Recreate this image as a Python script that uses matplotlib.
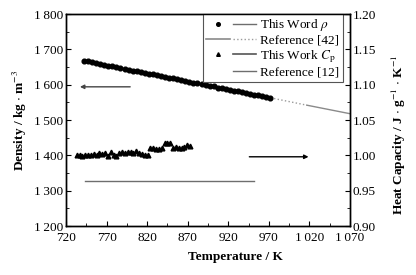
import matplotlib
matplotlib.use("Agg")
import matplotlib.pyplot as plt
from matplotlib.lines import Line2D
from matplotlib.legend_handler import HandlerTuple
from matplotlib.ticker import MultipleLocator, FixedLocator, FuncFormatter

plt.rcParams['font.family'] = ['Liberation Serif', 'DejaVu Serif']
plt.rcParams['mathtext.fontset'] = 'stix'

# density measured in this work
rho_T = [742, 747, 752, 757, 762, 767, 772, 777, 782, 787, 792, 797, 802, 807, 812, 817,
         822, 827, 832, 837, 842, 847, 852, 857, 862, 867, 872, 877, 882, 887, 892, 897,
         902, 907, 912, 917, 922, 927, 932, 937, 942, 947, 952, 957, 962, 967, 972]
rho = [1668, 1666, 1663, 1661, 1659, 1656, 1654, 1652, 1650, 1647, 1645, 1643, 1640, 1638,
       1636, 1634, 1631, 1629, 1627, 1624, 1622, 1620, 1618, 1615, 1613, 1611, 1608, 1606,
       1604, 1602, 1599, 1597, 1595, 1592, 1590, 1588, 1586, 1583, 1581, 1579, 1576, 1574,
       1572, 1570, 1567, 1565, 1563]

# density from reference [42] (dotted part, solid part)
ref42_T = [972, 1017, 1070]
ref42_rho = [1563, 1542, 1518]

# heat capacity measured in this work
cp_T = [733, 736.5, 740, 743.5, 747, 750.5, 754, 757.5, 761, 764.5, 768, 771.5, 775, 778.5,
        782, 785.5, 789, 792.5, 796, 799.5, 803, 806.5, 810, 813.5, 817, 820.5, 824, 827.5,
        831, 834.5, 838, 841.5, 845, 848.5, 852, 855.5, 859, 862.5, 866, 869.5, 873]
cp = [1.000, 1.000, 0.999, 1.001, 1.000, 1.001, 1.002, 1.001, 1.003, 1.002, 1.003, 0.999,
      1.005, 1.000, 0.999, 1.004, 1.005, 1.004, 1.005, 1.005, 1.003, 1.006, 1.004, 1.002,
      1.001, 1.001, 1.010, 1.010, 1.009, 1.009, 1.011, 1.018, 1.017, 1.017, 1.011, 1.012,
      1.011, 1.011, 1.012, 1.014, 1.013]

# heat capacity from reference [12]
ref12_T = [743, 952]
ref12_cp = [0.964, 0.964]

# axis ticks
x_ticks = [720, 770, 820, 870, 920, 970, 1020, 1070]
x_minor = [745, 795, 845, 895, 945, 995, 1045]

line_gray = '#6e6e6e'
fs = 9.5


def thin_thousands(v, pos):
    s = '%d' % round(v)
    if len(s) > 3:
        s = s[:-3] + '\u2009' + s[-3:]
    return s


fig = plt.figure(figsize=(4.16, 2.75), dpi=100)
ax = fig.add_axes([0.159, 0.178, 0.682, 0.771])
ax2 = ax.twinx()

ax.plot(rho_T, rho, 'o', color='black', markersize=3.4, zorder=3)
ax.plot(ref42_T[:2], ref42_rho[:2], ':', color='#9a9a9a', lw=1.0)
ax.plot(ref42_T[1:], ref42_rho[1:], '-', color='#8a8a8a', lw=1.0)

ax2.plot(cp_T, cp, '^', color='black', markersize=3.4, zorder=3)
ax2.plot(ref12_T, ref12_cp, '-', color=line_gray, lw=1.0)

# arrows showing which axis belongs to which data
ax.annotate('', xy=(737, 1594), xytext=(799, 1594),
            arrowprops=dict(arrowstyle='-|>', color='#444444', lw=1.0,
                            mutation_scale=6, shrinkA=0, shrinkB=0))
ax2.annotate('', xy=(1019, 0.998), xytext=(946, 0.998),
             arrowprops=dict(arrowstyle='-|>', color='black', lw=1.0,
                             mutation_scale=6, shrinkA=0, shrinkB=0))

ax.set_xlim(720, 1070)
ax.set_ylim(1200, 1800)
ax2.set_ylim(0.90, 1.20)

ax.xaxis.set_major_locator(FixedLocator(x_ticks))
ax.xaxis.set_minor_locator(FixedLocator(x_minor))
ax.yaxis.set_major_locator(MultipleLocator(100))
ax.yaxis.set_minor_locator(MultipleLocator(50))
ax2.yaxis.set_major_locator(MultipleLocator(0.05))
ax2.yaxis.set_minor_locator(MultipleLocator(0.025))
ax.xaxis.set_major_formatter(FuncFormatter(thin_thousands))
ax.yaxis.set_major_formatter(FuncFormatter(thin_thousands))
ax2.yaxis.set_major_formatter(FuncFormatter(lambda v, p: '%.2f' % v))

ax.tick_params(axis='both', which='both', direction='in', labelsize=fs, pad=2)
ax.tick_params(axis='x', which='both', pad=4)
ax.tick_params(which='major', length=3.5, width=0.8)
ax.tick_params(which='minor', length=2, width=0.6)
ax.tick_params(axis='x', top=False, which='both')
ax2.tick_params(axis='y', which='both', direction='in', labelsize=fs, pad=2)
ax2.tick_params(which='major', length=3.5, width=0.8)
ax2.tick_params(which='minor', length=2, width=0.6)
for a in (ax, ax2):
    for sp in a.spines.values():
        sp.set_linewidth(1.0)

ax.set_xlabel('Temperature / K', fontsize=9.5, fontweight='bold', labelpad=5)
ax.xaxis.label.set_x(0.595)
ax.set_ylabel('Density / kg $\\cdot$ m$^{-3}$', fontsize=9.5, fontweight='bold', labelpad=3.5)
ax2.set_ylabel('Heat Capacity / J $\\cdot$ g$^{-1}$ $\\cdot$ K$^{-1}$', fontsize=9.5,
               fontweight='bold', labelpad=10)
ax2.yaxis.label.set_y(0.43)

blank = Line2D([], [], linestyle='none')
h1 = (Line2D([], [], marker='o', color='black', markersize=2.6, linestyle='none'),
      Line2D([], [], color=line_gray, lw=1.0))
h2 = (Line2D([], [], color='#8a8a8a', lw=1.2), Line2D([], [], color='#9a9a9a', lw=1.0, ls=':'))
h3 = (Line2D([], [], marker='^', color='black', markersize=2.6, linestyle='none'),
      Line2D([], [], color='#555555', lw=1.2))
h4 = (blank, Line2D([], [], color=line_gray, lw=1.0))
leg = ax.legend([h1, h2, h3, h4],
                ['This Word $\\rho$', 'Reference [42]', 'This Work $C_\\mathrm{p}$', 'Reference [12]'],
                handler_map={tuple: HandlerTuple(ndivide=None, pad=0.2)},
                loc='upper right', bbox_to_anchor=(0.975, 1.0), fontsize=fs,
                fancybox=False, framealpha=1, edgecolor='#555555', handlelength=3.8,
                handletextpad=0.3, labelspacing=0.1, borderpad=0.25, borderaxespad=0)
leg.get_frame().set_linewidth(0.8)

fig.savefig('out.png', dpi=100)
